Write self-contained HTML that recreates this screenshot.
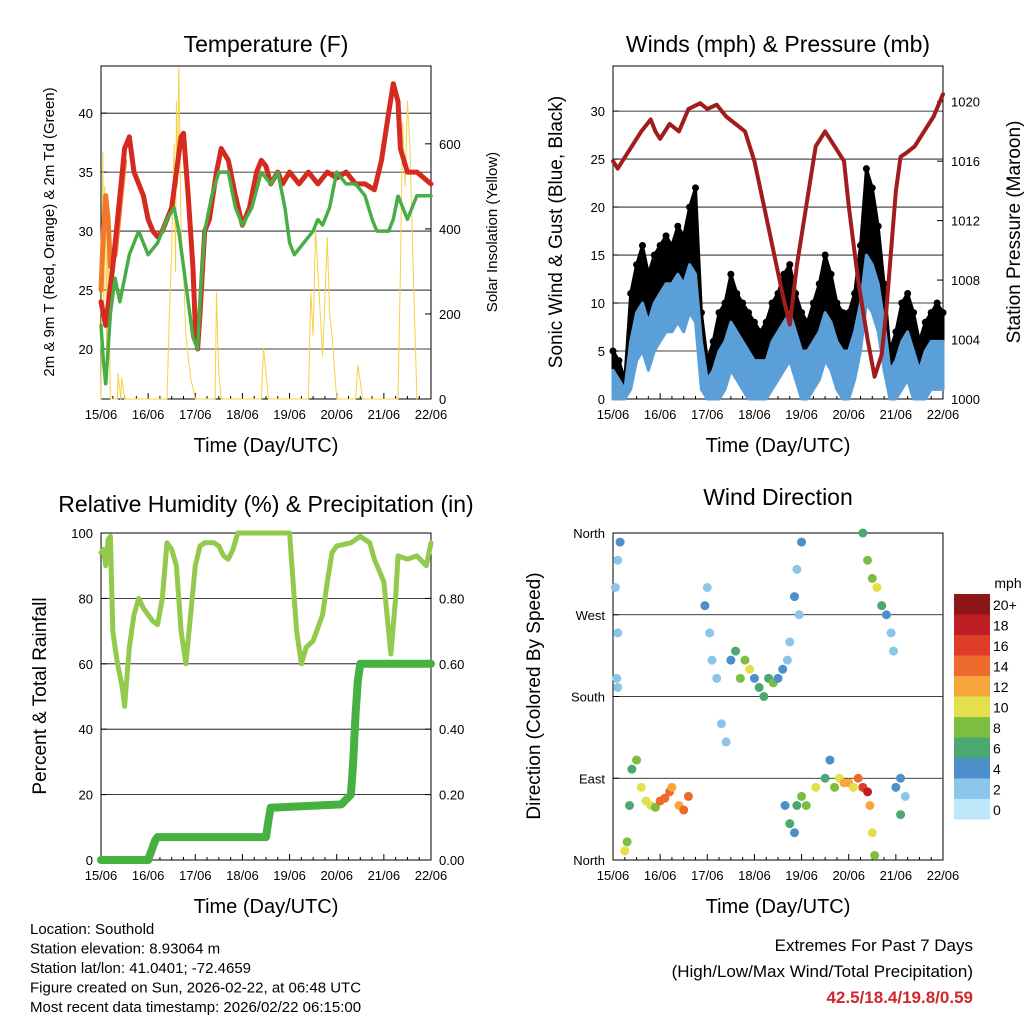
<!DOCTYPE html>
<html><head><meta charset="utf-8"><style>
body{margin:0;background:#fff;}
svg text{font-family:"Liberation Sans",sans-serif;fill:#000;}
</style></head><body>
<svg id="s" width="1024" height="1024" viewBox="0 0 1024 1024"></svg>
<script>
// ---------- DATA ----------
const dayLabels=["15/06","16/06","17/06","18/06","19/06","20/06","21/06","22/06"];
const tempT=[0,0.1,0.25,0.4,0.5,0.6,0.7,0.9,1.0,1.1,1.2,1.3,1.5,1.6,1.7,1.75,1.85,1.95,2.0,2.05,2.1,2.2,2.3,2.45,2.55,2.7,2.85,3.0,3.15,3.3,3.4,3.5,3.6,3.75,3.85,4.0,4.2,4.4,4.6,4.8,5.0,5.2,5.4,5.6,5.8,5.95,6.1,6.2,6.3,6.35,6.5,6.7,7.0];
const tempRed=[24,22,27,33,37,38,35,33,31,30,29.5,30,32,35,38,38.3,33,27,22,20,23,30,31,35,37,36,33,30.5,32,35,36,35.5,34,35,34,35,34,35,34,35,34.5,35,34,34,33.5,36,40,42.5,41,37,35,35,34];
const orangeT=[0,0.05,0.1,0.15,0.2,0.3,0.5];
const orangeV=[25,30,33,31,27,28,36];
const dewT=[0,0.05,0.1,0.15,0.2,0.3,0.4,0.5,0.6,0.7,0.8,0.9,1.0,1.2,1.4,1.55,1.65,1.75,1.85,1.95,2.05,2.1,2.2,2.35,2.5,2.7,2.85,3.0,3.2,3.4,3.6,3.75,3.9,4.0,4.1,4.3,4.5,4.6,4.7,4.85,5.0,5.2,5.4,5.6,5.75,5.85,5.95,6.1,6.2,6.3,6.5,6.7,6.9,7.0];
const dewV=[22,19,17,20,23,26,24,26,28,29,30,29,28,29,31,32,30,27,24,21,20,24,30,33,35,35,32,30.5,32,35,34,35,32,29,28,29,30,31,30.5,32,35,34,34,33,31,30,30,30,31,33,31,33,33,33];
const solarT=[0,0.02,0.04,0.06,0.08,0.1,0.12,0.14,0.2,0.35,0.36,0.42,0.44,0.5,1.4,1.45,1.5,1.55,1.58,1.6,1.62,1.65,1.7,1.75,1.8,1.9,2.0,2.42,2.45,2.48,2.5,2.55,3.4,3.45,3.5,3.55,4.4,4.45,4.5,4.55,4.6,4.7,4.8,4.85,4.9,5.0,5.4,5.45,5.5,5.55,6.3,6.35,6.4,6.45,6.5,6.55,6.6,6.7];
const solarV=[0,300,580,200,500,400,100,450,0,0,60,0,50,0,0,200,350,600,300,700,500,780,400,300,150,50,0,0,250,120,60,0,0,120,60,0,0,250,150,400,300,100,380,200,150,0,0,80,40,0,0,300,650,500,700,600,400,0];
const windT=[0,0.125,0.25,0.375,0.5,0.625,0.75,0.875,1,1.125,1.25,1.375,1.5,1.625,1.75,1.875,2,2.125,2.25,2.375,2.5,2.625,2.75,2.875,3,3.125,3.25,3.375,3.5,3.625,3.75,3.875,4,4.125,4.25,4.375,4.5,4.625,4.75,4.875,5,5.125,5.25,5.375,5.5,5.625,5.75,5.875,6,6.125,6.25,6.375,6.5,6.625,6.75,6.875,7];
const windV=[3,2,1,6,9,10,8,10,11,12,12,13,12,14,13,6,2,3,5,6,8,7,6,5,4,4,4,6,7,8,9,7,5,5,6,7,9,8,6,5,5,7,10,15,14,12,8,3,4,6,7,5,3,5,6,6,6];
const gustV=[5,4,2,11,14,16,13,15,16,17,16,18,17,20,22,9,4,6,9,10,13,11,10,9,8,7,8,10,11,13,14,11,9,8,10,12,15,13,10,9,9,11,16,24,22,18,12,5,7,10,11,9,6,8,9,10,9];
const presT=[0,0.1,0.3,0.6,0.8,0.9,1.0,1.2,1.4,1.6,1.85,2.0,2.2,2.4,2.6,2.8,3.0,3.2,3.4,3.6,3.75,3.9,4.1,4.3,4.5,4.7,4.9,5.0,5.2,5.4,5.55,5.7,5.8,5.9,6.0,6.1,6.2,6.4,6.6,6.8,7.0];
const presV=[1016,1015.5,1016.5,1018,1018.8,1018,1017.5,1018.5,1018,1019.5,1019.9,1019.5,1019.8,1019,1018.5,1018,1016,1013,1010,1007,1005,1009,1013,1017,1018,1017,1016,1013,1008,1004,1001.5,1003,1006,1010,1014,1016.3,1016.5,1017,1018,1019,1020.5];
const rhT=[0,0.05,0.1,0.15,0.2,0.25,0.3,0.35,0.45,0.5,0.6,0.7,0.8,0.9,1.0,1.1,1.2,1.3,1.4,1.5,1.6,1.7,1.8,1.9,2.0,2.1,2.2,2.3,2.4,2.5,2.6,2.7,2.8,2.9,3.0,3.5,4.0,4.05,4.15,4.25,4.35,4.5,4.7,4.8,4.9,5.0,5.3,5.5,5.7,5.8,6.0,6.1,6.15,6.25,6.3,6.5,6.7,6.9,7.0];
const rhV=[94,95,90,98,99,70,65,60,53,47,65,75,80,77,75,73,72,80,97,95,90,70,60,75,90,96,97,97,97,96,93,92,95,100,100,100,100,90,70,60,65,67,75,85,94,96,97,99,97,92,85,70,63,80,93,92,93,90,97];
const rainT=[0,1.0,1.15,1.2,3.5,3.55,3.6,5.1,5.3,5.35,5.4,5.45,5.5,7.0];
const rainV=[0,0,0.06,0.07,0.07,0.12,0.16,0.17,0.2,0.3,0.45,0.55,0.6,0.6];
const dirT=[0.05,0.1,0.1,0.15,0.08,0.1,0.25,0.3,0.35,0.4,0.5,0.6,0.7,0.8,0.9,1.0,1.1,1.2,1.25,1.4,1.5,1.6,2.0,1.95,2.05,2.1,2.2,2.3,2.4,2.5,2.6,2.7,2.8,2.9,3.0,3.1,3.2,3.3,3.4,3.5,3.6,3.7,3.75,3.65,3.75,3.85,3.9,4.0,4.0,3.9,3.85,3.95,4.1,4.3,4.5,4.6,4.7,4.8,4.9,5.0,5.1,5.2,5.3,5.4,5.45,5.5,5.55,5.3,5.4,5.5,5.6,5.7,5.8,5.9,5.95,6.0,6.1,6.1,6.2];
const dirV=[300,330,250,350,200,190,10,20,60,100,110,80,65,60,58,65,68,75,80,60,55,70,300,280,250,220,200,150,130,220,230,200,220,210,200,190,180,200,195,200,210,220,240,60,40,30,60,70,350,320,290,270,60,80,90,110,80,90,85,85,80,90,80,75,60,30,5,360,330,310,300,280,270,250,230,80,90,50,70];
const dirS=[3,2,2,4,2,2,11,9,6,6,8,10,10,11,8,14,14,14,12,12,14,15,2,4,2,3,2,2,2,5,6,8,8,10,5,6,6,7,8,5,4,3,3,4,6,4,7,8,4,3,5,2,8,10,6,5,8,10,12,12,10,14,16,18,12,10,8,6,8,9,10,7,4,3,2,4,4,6,3];
const speedLevels=["0","2","4","6","8","10","12","14","16","18","20+"];
const speedColors=["#bde6f8","#8cc5ea","#4c8fcb","#4aa870","#7dbd3f","#e4df4a","#f6a73c","#ee6a2c","#de3d27","#bd1e24","#8e1518"];

// ---------- HELPERS ----------
const S=document.getElementById('s');const NS="http://www.w3.org/2000/svg";
function el(tag,attrs,txt){const e=document.createElementNS(NS,tag);for(const k in attrs)e.setAttribute(k,attrs[k]);if(txt!==undefined)e.textContent=txt;S.appendChild(e);return e;}
function lin(d0,d1,r0,r1){return v=>r0+(v-d0)/(d1-d0)*(r1-r0);}
function txt(x,y,s,size,anchor,name,extra){const e=el('text',Object.assign({x:x,y:y,'font-size':size,'text-anchor':anchor||'middle'},extra||{}),s);return e;}
function panelFrame(x0,x1,y0,y1,name){
  const r=el('rect',{x:x0,y:y0,width:x1-x0,height:y1-y0,fill:'none',stroke:'#000','stroke-width':1});
  
  const xs=lin(0,7,x0,x1);
  dayLabels.forEach((d,i)=>{const x=xs(i);
    const t=el('line',{x1:x,x2:x,y1:y1,y2:y1-6,stroke:'#000'});
    for(let h=1;h<4&&i<7;h++){const m=el('line',{x1:xs(i+h/4),x2:xs(i+h/4),y1:y1,y2:y1-3,stroke:'#000'});}
    txt(x,y1+20,d,13,'middle','x-tick-label');});
  txt((x0+x1)/2,y1+53,'Time (Day/UTC)',20,'middle','x-axis-title');
  return xs;}
function gridY(x0,x1,y,name){const g=el('line',{x1:x0,x2:x1,y1:y,y2:y,stroke:'#000','stroke-width':0.8});}
function pathOf(T,V,xs,ys){return T.map((t,i)=>(i?'L':'M')+xs(t).toFixed(1)+','+ys(V[i]).toFixed(1)).join('');}
function series(T,V,xs,ys,color,w,name,dash){const p=el('path',{d:pathOf(T,V,xs,ys),fill:'none',stroke:color,'stroke-width':w,'stroke-linejoin':'round','stroke-linecap':'round'});if(dash)p.setAttribute('stroke-dasharray',dash);return p;}
function band(T,lo,hi,xs,ys,color,name){
  let d=T.map((t,i)=>(i?'L':'M')+xs(t).toFixed(1)+','+ys(hi[i]).toFixed(1)).join('');
  for(let i=T.length-1;i>=0;i--)d+='L'+xs(T[i]).toFixed(1)+','+ys(lo[i]).toFixed(1);
  const p=el('path',{d:d+'Z',fill:color,stroke:color,'stroke-width':3,'stroke-linejoin':'round'});
  return p;}

// ---------- PANEL 1: Temperature ----------
(function(){
  const x0=101,x1=431,y0=66,y1=399;
  const ys=lin(15.76,44,y1,y0), ysol=lin(0,783,y1,y0);
  [20,25,30,35,40].forEach(v=>{gridY(x0,x1,ys(v),'temp-gridline');txt(x0-8,ys(v)+5,String(v),13,'end','temp-tick-label');
    const t=el('line',{x1:x0,x2:x0+6,y1:ys(v),y2:ys(v),stroke:'#000'});});
  [0,200,400,600].forEach(v=>{txt(x1+8,ysol(v)+5,String(v),13,'start','solar-tick-label');
    const t=el('line',{x1:x1,x2:x1-6,y1:ysol(v),y2:ysol(v),stroke:'#000'});});
  const xs=panelFrame(x0,x1,y0,y1,'temperature-plot-area');
  series(solarT,solarV,xs,ysol,'#f7d046',1,'solar-insolation-line');
  series(orangeT,orangeV,xs,ys,'#f07a2a',5,'temp-9m-orange-line');
  series(tempT,tempRed,xs,ys,'#d42a20',5,'temp-2m-red-line');
  series(dewT,dewV,xs,ys,'#48ad45',3.5,'dewpoint-green-line','2.5 1.5');
  txt(266,52,'Temperature (F)',23,'middle','temperature-title');
  txt(54,232,'2m & 9m T (Red, Orange) & 2m Td (Green)',15,'middle','temp-y-axis-title',{transform:'rotate(-90 54 232)'});
  txt(497,232,'Solar Insolation (Yellow)',15,'middle','solar-y-axis-title',{transform:'rotate(-90 497 232)'});
})();

// ---------- PANEL 2: Winds & Pressure ----------
(function(){
  const x0=613,x1=943,y0=66,y1=399;
  const ys=lin(0,34.7,y1,y0), yp=lin(1000,1022.4,y1,y0);
  [5,10,15,20,25,30].forEach(v=>gridY(x0,x1,ys(v),'wind-gridline'));
  [0,5,10,15,20,25,30].forEach(v=>{txt(x0-8,ys(v)+5,String(v),13,'end','wind-tick-label');
    const t=el('line',{x1:x0,x2:x0+6,y1:ys(v),y2:ys(v),stroke:'#000'});});
  [1000,1004,1008,1012,1016,1020].forEach(v=>{txt(x1+8,yp(v)+5,String(v),13,'start','pressure-tick-label');
    const t=el('line',{x1:x1,x2:x1-6,y1:yp(v),y2:yp(v),stroke:'#000'});});
  const xs=panelFrame(x0,x1,y0,y1,'wind-plot-area');
  const lowV=windV.map(v=>Math.max(0,v-5));
  band(windT,windV,gustV,xs,ys,'#000','gust-black-band');
  windT.forEach((t,i)=>{const c=el('circle',{cx:xs(t),cy:ys(gustV[i]),r:3.5,fill:'#000'});});
  band(windT,lowV,windV,xs,ys,'#5b9fd9','sonic-wind-blue-band');
  series(presT,presV,xs,yp,'#a11d1d',4,'pressure-maroon-line');
  txt(778,52,'Winds (mph) & Pressure (mb)',23,'middle','winds-title');
  txt(562,232,'Sonic Wind & Gust (Blue, Black)',19,'middle','wind-y-axis-title',{transform:'rotate(-90 562 232)'});
  txt(1020,232,'Station Pressure (Maroon)',19,'middle','pressure-y-axis-title',{transform:'rotate(-90 1020 232)'});
})();

// ---------- PANEL 3: RH & Precip ----------
(function(){
  const x0=101,x1=431,y0=533,y1=860;
  const ys=lin(0,100,y1,y0), yr=lin(0,1,y1,y0);
  [20,40,60,80].forEach(v=>gridY(x0,x1,ys(v),'rh-gridline'));
  [0,20,40,60,80,100].forEach(v=>{txt(x0-8,ys(v)+5,String(v),13,'end','rh-tick-label');
    const t=el('line',{x1:x0,x2:x0+6,y1:ys(v),y2:ys(v),stroke:'#000'});});
  [0,0.2,0.4,0.6,0.8].forEach(v=>{txt(x1+8,yr(v)+5,v.toFixed(2),13,'start','rain-tick-label');
    const t=el('line',{x1:x1,x2:x1-6,y1:yr(v),y2:yr(v),stroke:'#000'});});
  const xs=panelFrame(x0,x1,y0,y1,'rh-plot-area');
  series(rainT,rainV,xs,yr,'#46b141',8,'precip-green-line');
  series(rhT,rhV,xs,ys,'#93c94c',5,'rh-light-green-line');
  txt(266,512,'Relative Humidity (%) & Precipitation (in)',23,'middle','rh-title');
  txt(46,696,'Percent & Total Rainfall',19,'middle','rh-y-axis-title',{transform:'rotate(-90 46 696)'});
})();

// ---------- PANEL 4: Wind Direction ----------
(function(){
  const x0=613,x1=943,y0=533,y1=860;
  const ys=lin(0,360,y1,y0);
  const names=["North","East","South","West","North"];
  [90,180,270].forEach(v=>gridY(x0,x1,ys(v),'direction-gridline'));
  names.forEach((n,i)=>{const v=i*90;txt(x0-8,ys(v)+5,n,13,'end','direction-tick-label');
    const t=el('line',{x1:x0,x2:x0+6,y1:ys(v),y2:ys(v),stroke:'#000'});});
  const xs=panelFrame(x0,x1,y0,y1,'direction-plot-area');
  dirT.forEach((t,i)=>{const idx=Math.min(10,Math.floor(dirS[i]/2));
    const c=el('circle',{cx:xs(t),cy:ys(dirV[i]),r:4.5,fill:speedColors[idx]});
    });
  txt(778,505,'Wind Direction',23,'middle','direction-title');
  txt(540,696,'Direction (Colored By Speed)',19,'middle','direction-y-axis-title',{transform:'rotate(-90 540 696)'});
  txt(1008,588,'mph',14,'middle','legend-unit');
  for(let i=0;i<11;i++){const k=10-i;const y=594+i*20.5;
    const r=el('rect',{x:954,y:y,width:36,height:20.5,fill:speedColors[k]});
    txt(993,y+16,speedLevels[k],14,'start','legend-label');}
})();

// ---------- FOOTER ----------
["Location: Southold","Station elevation: 8.93064 m","Station lat/lon: 41.0401; -72.4659","Figure created on Sun, 2026-02-22, at 06:48 UTC","Most recent data timestamp: 2026/02/22 06:15:00"].forEach((s,i)=>txt(30,934+i*19.5,s,15,'start','station-info-line'));
txt(973,951,'Extremes For Past 7 Days',17,'end','extremes-title');
txt(973,977,'(High/Low/Max Wind/Total Precipitation)',17,'end','extremes-subtitle');
txt(973,1003,'42.5/18.4/19.8/0.59',17,'end','extremes-values',{'font-weight':'bold',style:'fill:#d0262d'});
</script>
</body></html>
